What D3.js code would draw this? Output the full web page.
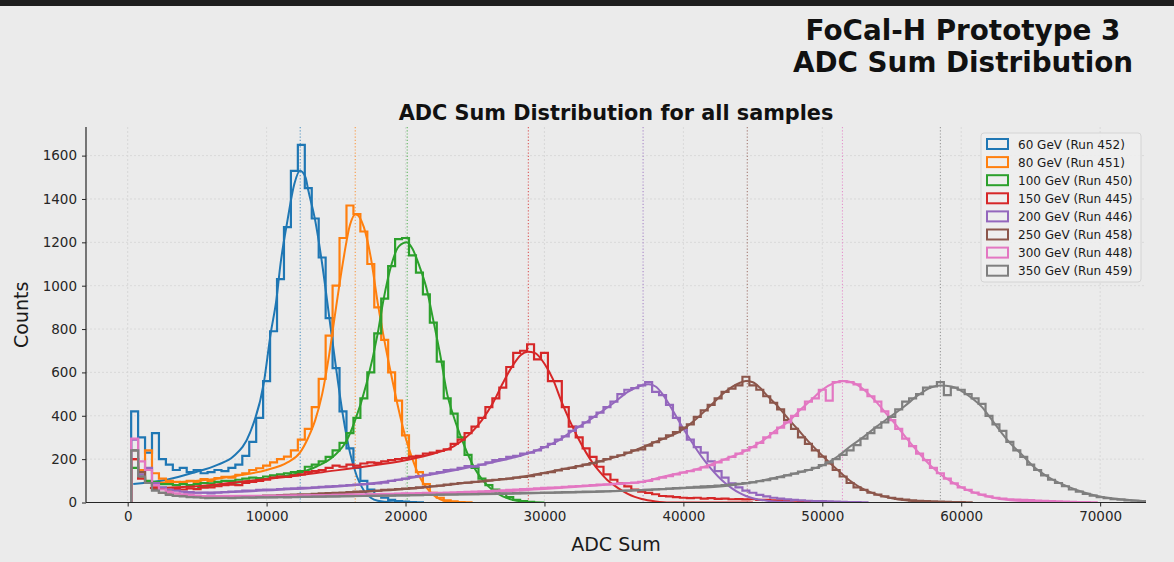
<!DOCTYPE html>
<html><head><meta charset="utf-8">
<script src="https://cdn.jsdelivr.net/npm/d3@7"></script>
<style>
html,body{margin:0;padding:0;background:#ebebeb;}
svg{display:block;font-family:"DejaVu Sans",sans-serif;}
</style></head>
<body>
<svg id="chart" width="1174" height="562"></svg>
<script>
// ---------- DATA ----------
const binStart = 250;   // left edge of first bin (ADC)
const binWidth = 500;   // ADC per bin
const seriesLabels = ["60 GeV (Run 452)","80 GeV (Run 451)","100 GeV (Run 450)","150 GeV (Run 445)","200 GeV (Run 446)","250 GeV (Run 458)","300 GeV (Run 448)","350 GeV (Run 459)"];
const seriesColors = ["#1f77b4","#ff7f0e","#2ca02c","#d62728","#9467bd","#8c564b","#e377c2","#7f7f7f"];
const meanValues = [12420, 16380, 20120, 28840, 37100, 44600, 51450, 58500];
const xTicks = [0,10000,20000,30000,40000,50000,60000,70000];
const yTicks = [0,200,400,600,800,1000,1200,1400,1600];

const counts60 = [420,300,230,320,200,175,150,160,140,150,135,140,150,145,160,175,215,280,390,560,790,1030,1270,1530,1650,1450,1310,1130,850,620,420,250,160,100,60,38,22,12,7,4,2,1];
const counts80 = [200,150,240,135,110,100,95,92,100,95,108,100,112,118,115,128,135,150,158,170,185,200,212,240,290,340,440,570,770,1000,1220,1370,1330,1250,1100,900,750,600,470,310,210,140,85,45,22,10,5,2,1];
const counts100 = [160,120,100,95,85,85,80,85,80,85,90,88,95,100,100,105,110,115,112,120,125,130,135,140,145,165,175,190,210,240,275,320,390,480,600,780,940,1090,1215,1220,1140,1060,960,830,650,480,410,300,220,160,110,80,60,40,25,12,6,3];
const counts150 = [200,110,90,70,65,60,62,60,65,62,68,70,75,80,82,80,90,95,100,105,115,120,118,125,130,140,145,150,160,170,165,175,170,180,185,183,190,195,200,205,212,215,225,230,238,245,270,290,320,350,390,440,480,530,625,690,700,730,660,690,560,560,440,350,300,250,210,165,130,105,88,74,60,50,44,38,30,28,25,22,20,22,18,20,17,18,15,16,14,15,12,12,10,10,8,8,6,5,4,3];
const counts200 = [290,130,160,90,70,60,55,50,48,45,45,42,45,48,50,52,55,55,58,60,60,62,64,65,68,68,70,72,75,76,78,80,82,85,86,88,92,100,105,110,118,122,128,135,140,150,152,160,168,165,175,185,195,200,210,215,225,230,240,255,270,290,305,330,350,370,395,415,440,465,500,520,528,540,555,510,495,450,390,340,290,255,230,190,145,115,88,70,55,45,35,28,22,18,14,12,10,8,7,6,5,4,3,2,2,1];
const counts250 = [240,140,90,60,45,38,32,30,28,26,25,26,25,27,28,27,28,30,30,32,32,34,35,36,38,38,40,42,43,45,46,48,50,52,53,55,58,60,62,64,66,70,72,75,78,82,86,90,92,95,98,102,105,108,110,115,118,122,128,135,140,148,155,160,168,175,182,190,200,210,218,230,240,245,262,278,295,310,325,345,360,395,425,450,480,510,525,540,580,540,520,490,460,430,380,340,300,270,240,212,180,150,120,90,70,58,45,36,28,22,17,13,10,8,6,5,4,3,2,2,1];
const counts300 = [295,190,150,80,60,48,42,38,35,32,30,30,28,28,27,28,28,29,30,30,30,31,31,32,32,33,33,34,34,35,35,36,37,37,38,39,40,40,41,42,42,43,44,44,45,46,47,48,49,50,52,53,55,56,58,60,62,63,65,67,69,70,72,74,76,78,80,82,84,86,88,90,92,95,100,108,115,122,130,138,145,152,162,172,185,198,210,225,240,255,275,300,320,345,370,400,430,465,480,520,470,555,560,555,545,520,490,465,420,380,340,295,260,225,195,160,135,110,88,70,58,46,36,28,22,18,15,13,12,11,9,8,6,5,4,3,2,2,1];
const counts350 = [240,120,90,55,45,35,30,28,25,24,22,22,21,22,20,22,23,22,24,23,24,25,24,25,26,26,27,27,28,28,29,29,30,30,31,31,32,32,33,33,34,34,35,35,36,37,37,38,38,39,40,40,41,42,42,43,44,44,45,46,46,47,48,48,49,50,50,51,52,53,54,55,56,57,58,60,62,64,66,68,70,72,74,76,78,80,83,86,89,93,98,103,110,117,125,133,142,150,160,172,185,200,220,240,265,295,320,345,370,395,430,465,480,500,530,535,555,495,530,520,500,480,455,400,360,330,280,240,210,175,150,125,105,90,75,60,50,40,32,25,20,16,13,10,8,6];

const fit60 = [[400,85],[2800,105],[4700,137],[6500,175],[7600,212],[8800,321],[9800,552],[10300,782],[10700,933],[11000,1100],[11500,1300],[12000,1470],[12400,1530],[12800,1500],[13000,1440],[13500,1300],[14000,1100],[14500,860],[15000,620],[15500,400],[16000,230],[16500,120],[17000,55],[17500,22],[18000,8],[19000,1],[20000,0]];
const fit80 = [[1800,90],[5000,100],[8000,125],[10000,150],[11500,185],[12400,230],[13000,300],[13500,380],[14000,500],[14500,680],[15000,900],[15500,1110],[16000,1280],[16400,1330],[17000,1270],[17500,1130],[18000,920],[18500,740],[19000,580],[19500,430],[20000,300],[20500,200],[21000,120],[21500,70],[22000,35],[22500,15],[23000,5],[24000,0]];
const fit100 = [[5000,70],[10000,110],[12400,137],[13600,166],[14800,212],[15800,290],[16300,366],[17200,550],[18000,780],[18400,930],[19000,1100],[19500,1180],[20100,1200],[20500,1170],[21000,1090],[21500,990],[22000,840],[22500,680],[23000,500],[23500,390],[24000,300],[24500,220],[25000,155],[25500,108],[26000,72],[26500,46],[27000,28],[27500,16],[28000,8],[29000,2],[30000,0]];
const fit150 = [[1600,67],[5000,75],[8000,95],[11000,115],[14000,140],[17000,165],[20000,195],[22000,225],[23500,260],[24700,320],[25500,380],[26300,460],[27000,550],[27700,630],[28300,680],[28800,695],[29300,690],[30000,640],[30600,570],[31200,470],[31800,380],[32400,300],[33000,230],[33500,180],[34000,140],[34500,105],[35000,80],[35500,58],[36000,40],[36500,26],[37000,16],[38000,5],[39000,0],[45000,0]];
const fit200 = [[4000,45],[8000,50],[12000,62],[16000,78],[20000,110],[24000,155],[26600,190],[28500,220],[30000,255],[31000,285],[32000,330],[33000,370],[34000,415],[35000,460],[36000,510],[37000,540],[37500,545],[38000,535],[38500,500],[39000,450],[39500,395],[40000,340],[40500,290],[41000,240],[41500,195],[42000,155],[42500,120],[43000,90],[43500,65],[44000,45],[44500,30],[45000,20],[46000,8],[47000,3],[48000,0]];
const fit250 = [[5000,26],[12000,32],[16000,45],[20000,62],[24000,88],[28000,115],[31000,150],[34000,190],[36000,228],[38000,280],[39800,330],[41000,390],[42000,450],[43000,510],[44000,550],[44500,560],[45000,555],[45500,530],[46000,495],[46700,450],[47500,390],[48200,340],[49100,275],[50100,210],[51100,150],[52000,100],[53000,60],[54000,35],[55000,20],[56000,10],[57000,4],[58000,1],[59000,0]];
const fit300 = [[5000,30],[12000,32],[20000,40],[26000,48],[30000,62],[34000,80],[37000,95],[38600,120],[41000,155],[43000,200],[44600,243],[45800,289],[46700,335],[47700,381],[48400,427],[49200,473],[50000,520],[50800,550],[51500,560],[52300,550],[53000,520],[53800,470],[54600,410],[55400,350],[56200,285],[57000,225],[57800,170],[58500,130],[59500,88],[60400,58],[61500,35],[62500,20],[64000,8],[66000,2],[68000,0]];
const fit350 = [[5500,20],[15000,28],[25000,38],[35000,52],[40000,66],[42200,72],[44600,89],[47000,120],[48600,143],[50100,174],[51100,212],[52000,258],[53000,304],[53900,350],[54900,396],[55900,443],[56900,495],[57800,530],[58500,540],[59300,535],[60000,515],[60800,480],[61500,440],[62100,390],[62800,330],[63500,275],[64300,225],[65200,166],[66200,120],[67100,89],[68300,58],[69500,35],[71000,18],[72400,10],[73300,6]];

// ---------- CHART ----------
const allCounts = [counts60,counts80,counts100,counts150,counts200,counts250,counts300,counts350];
const allFits = [fit60,fit80,fit100,fit150,fit200,fit250,fit300,fit350];

const svg = d3.select("#chart");
const W = 1174, H = 562;
const P = {left:86, right:1146, top:127, bottom:502.5};

svg.append("rect").attr("width",W).attr("height",H).attr("fill","#ebebeb");
svg.append("rect").attr("width",W).attr("height",6).attr("fill","#1e1e1e");

const x = d3.scaleLinear().domain([-3000,73300]).range([P.left,P.right]);
const y = d3.scaleLinear().domain([0,1732]).range([P.bottom,P.top]);

// grid
const grid = svg.append("g");
grid.selectAll(".gx").data(xTicks).join("line")
  .attr("x1",d=>x(d)).attr("x2",d=>x(d)).attr("y1",P.top).attr("y2",P.bottom)
  .attr("stroke","#d4d4d4").attr("stroke-width",0.8).attr("stroke-dasharray","2,2");
grid.selectAll(".gy").data(yTicks).join("line")
  .attr("x1",P.left).attr("x2",P.right).attr("y1",d=>y(d)).attr("y2",d=>y(d))
  .attr("stroke","#d4d4d4").attr("stroke-width",0.8).attr("stroke-dasharray","2,2");

svg.append("clipPath").attr("id","clip").append("rect")
  .attr("x",P.left).attr("y",P.top).attr("width",P.right-P.left).attr("height",P.bottom-P.top);
const plot = svg.append("g").attr("clip-path","url(#clip)");

// mean lines
plot.selectAll(".mean").data(meanValues).join("line")
  .attr("x1",d=>x(d)).attr("x2",d=>x(d)).attr("y1",P.top).attr("y2",P.bottom)
  .attr("stroke",(d,i)=>seriesColors[i]).attr("stroke-width",1.1)
  .attr("stroke-dasharray","1.2,2").attr("opacity",0.75);

const stepLine = d3.line().x(d=>x(d[0])).y(d=>y(d[1]));
const fitLine = d3.line().x(d=>x(d[0])).y(d=>y(d[1])).curve(d3.curveMonotoneX);

allCounts.forEach((counts,i)=>{
  const pts = [[binStart,0]];
  counts.forEach((c,j)=>{
    const l = binStart + j*binWidth;
    pts.push([l,c]); pts.push([l+binWidth,c]);
  });
  pts.push([binStart+counts.length*binWidth,0]);
  plot.append("path").attr("d",stepLine(pts)).attr("fill","none")
    .attr("stroke",seriesColors[i]).attr("stroke-width",2.2).attr("stroke-linejoin","miter");
  plot.append("path").attr("d",fitLine(allFits[i])).attr("fill","none")
    .attr("stroke",seriesColors[i]).attr("stroke-width",2);
});

// axes
const xAxis = svg.append("g").attr("transform",`translate(0,${P.bottom})`)
  .call(d3.axisBottom(x).tickValues(xTicks).tickFormat(d3.format("d")).tickSize(4).tickPadding(5).tickSizeOuter(0));
const yAxis = svg.append("g").attr("transform",`translate(${P.left},0)`)
  .call(d3.axisLeft(y).tickValues(yTicks).tickFormat(d3.format("d")).tickSize(4).tickPadding(5).tickSizeOuter(0));
[xAxis,yAxis].forEach(a=>{
  a.selectAll("text").attr("font-size",13.5).attr("fill","#262626").attr("font-family","DejaVu Sans");
  a.selectAll("line").attr("stroke","#262626");
  a.select(".domain").attr("stroke","#262626").attr("stroke-width",1.2);
});
xAxis.select(".domain").attr("d",`M${P.left},0H${P.right}`);
yAxis.select(".domain").attr("d",`M0,${P.top}V${P.bottom}`);

svg.append("text").attr("x",(P.left+P.right)/2).attr("y",551).attr("text-anchor","middle")
  .attr("font-size",19).attr("fill","#1a1a1a").text("ADC Sum");
svg.append("text").attr("transform",`translate(28,${(P.top+P.bottom)/2}) rotate(-90)`).attr("text-anchor","middle")
  .attr("font-size",19).attr("fill","#1a1a1a").text("Counts");

svg.append("text").attr("x",(P.left+P.right)/2).attr("y",120).attr("text-anchor","middle")
  .attr("font-size",20.8).attr("font-weight","bold").attr("fill","#111").text("ADC Sum Distribution for all samples");
svg.append("text").attr("x",963).attr("y",40).attr("text-anchor","middle")
  .attr("font-size",27.8).attr("font-weight","bold").attr("fill","#111").text("FoCal-H Prototype 3");
svg.append("text").attr("x",963).attr("y",72).attr("text-anchor","middle")
  .attr("font-size",27.8).attr("font-weight","bold").attr("fill","#111").text("ADC Sum Distribution");

// legend
const lg = svg.append("g").attr("transform","translate(981,133)");
lg.append("rect").attr("width",160).attr("height",149).attr("rx",3)
  .attr("fill","#eeeeee").attr("fill-opacity",0.85).attr("stroke","#d4d4d4");
seriesLabels.forEach((lab,i)=>{
  const gy = 11 + i*18.1;
  lg.append("rect").attr("x",6).attr("y",gy-5).attr("width",21).attr("height",10)
    .attr("fill","none").attr("stroke",seriesColors[i]).attr("stroke-width",2);
  lg.append("text").attr("x",37).attr("y",gy+4.5).attr("font-size",12).attr("fill","#1a1a1a").text(lab);
});
</script>
</body></html>
